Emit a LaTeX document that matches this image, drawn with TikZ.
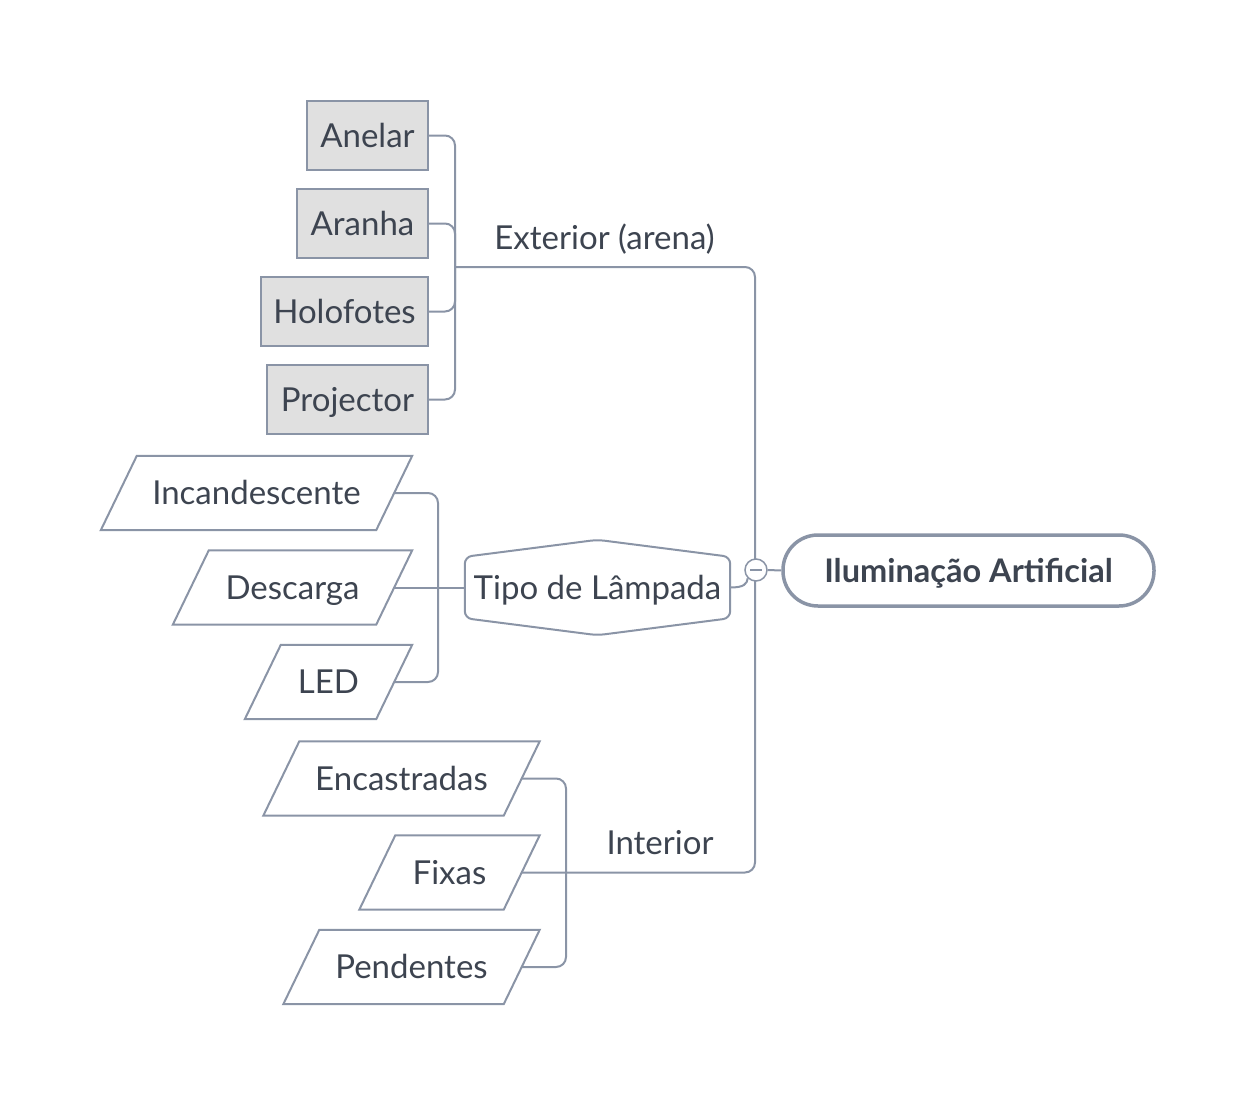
\documentclass[tikz,border=0pt]{standalone}
\usepackage{fontspec}
\setmainfont{Lato}
\definecolor{ln}{HTML}{8A94A6}
\definecolor{tx}{HTML}{3D4450}
\definecolor{gf}{HTML}{E0E0E0}
\tikzset{
  lbl/.style={text=tx, font=\fontsize{33}{40}\selectfont, inner sep=0pt, text height=23pt, text depth=0pt},
  boxnode/.style={lbl, draw=ln, fill=gf, line width=2pt, minimum height=69pt},
  shp/.style={draw=ln, line width=2pt},
  conn/.style={draw=ln, line width=2pt, rounded corners=10pt},
}
\newcommand\plgnode[5]{%
  \node[lbl, minimum width=2*#4pt, minimum height=74pt] (#1) at (#2,#3) {#5};
  \draw[shp, line join=miter] ([xshift=18pt]#1.north west) -- ([xshift=18pt]#1.north east)
     -- ([xshift=-18pt]#1.south east) -- ([xshift=-18pt]#1.south west) -- cycle;
}
\begin{document}
\begin{tikzpicture}[x=1pt,y=-1pt]
\useasboundingbox (0,0) rectangle (1254,1106);
% exterior boxes
\node[boxnode, minimum width=121pt] (anelar) at (367.5,135.5) {Anelar};
\node[boxnode, minimum width=131pt] (aranha) at (362.5,223.5) {Aranha};
\node[boxnode, minimum width=167pt] (holo) at (344.5,311.5) {Holofotes};
\node[boxnode, minimum width=161pt] (proj) at (347.5,399.5) {Projector};
% lamp types
\plgnode{inc}{256.5}{493}{137.5}{Incandescente}
\plgnode{desc}{292.5}{587.5}{101.5}{Descarga}
\plgnode{led}{328.5}{682}{65.5}{LED}
% interior
\plgnode{enc}{401.5}{778.5}{120}{Encastradas}
\plgnode{fix}{449.5}{872.5}{72}{Fixas}
\plgnode{pend}{411.5}{967}{110}{Pendentes}
% tipo hexagon
\node[lbl, minimum width=265pt, minimum height=95pt] (tipo) at (597.5,587.5) {Tipo de Lâmpada};
\draw[shp, rounded corners=7pt] (tipo.north) -- ([yshift=-17pt]tipo.north east) -- ([yshift=17pt]tipo.south east)
   -- (tipo.south) -- ([yshift=17pt]tipo.south west) -- ([yshift=-17pt]tipo.north west) -- cycle;
% root
\node[lbl, font=\fontsize{32.5}{40}\selectfont\bfseries, draw=ln, line width=3.5pt, rounded corners=35pt,
      minimum width=371pt, minimum height=71pt] (root) at (968.5,570.5) {Iluminação Artificial};
% junction coordinates
\coordinate (ext) at (455,267);
\coordinate (tj) at (438,587.5);
\coordinate (ij) at (566,872.5);
% connectors
\draw[conn] (anelar.east) -| (ext);
\draw[conn] (aranha.east) -| (ext);
\draw[conn] (holo.east) -| (ext);
\draw[conn] (proj.east) -| (ext);
\draw[conn] (ext) -- (755,267) -- (755,872.5) -- (fix.east);
\draw[conn] (enc.east) -| (ij);
\draw[conn] (pend.east) -| (ij);
\draw[conn] (inc.east) -| (tj);
\draw[conn] (led.east) -| (tj);
\draw[conn] (desc.east) -- (tipo.west);
\node[circle, draw=ln, fill=white, line width=1.5pt, minimum size=22pt, inner sep=0pt] (circ) at (756,570) {};
\draw[ln, line width=1.5pt] ([xshift=-6pt]circ.center) -- ([xshift=6pt]circ.center);
\draw[ln, line width=2pt] (tipo.east) .. controls (744,587.5) and (747,584) .. (circ.south west);
\draw[conn] (circ.east) -- (root.west);
% labels
\node[lbl] (extl) at (604.5,237.5) {Exterior (arena)};
\node[lbl] (intl) at (660,843) {Interior};
\end{tikzpicture}
\end{document}
